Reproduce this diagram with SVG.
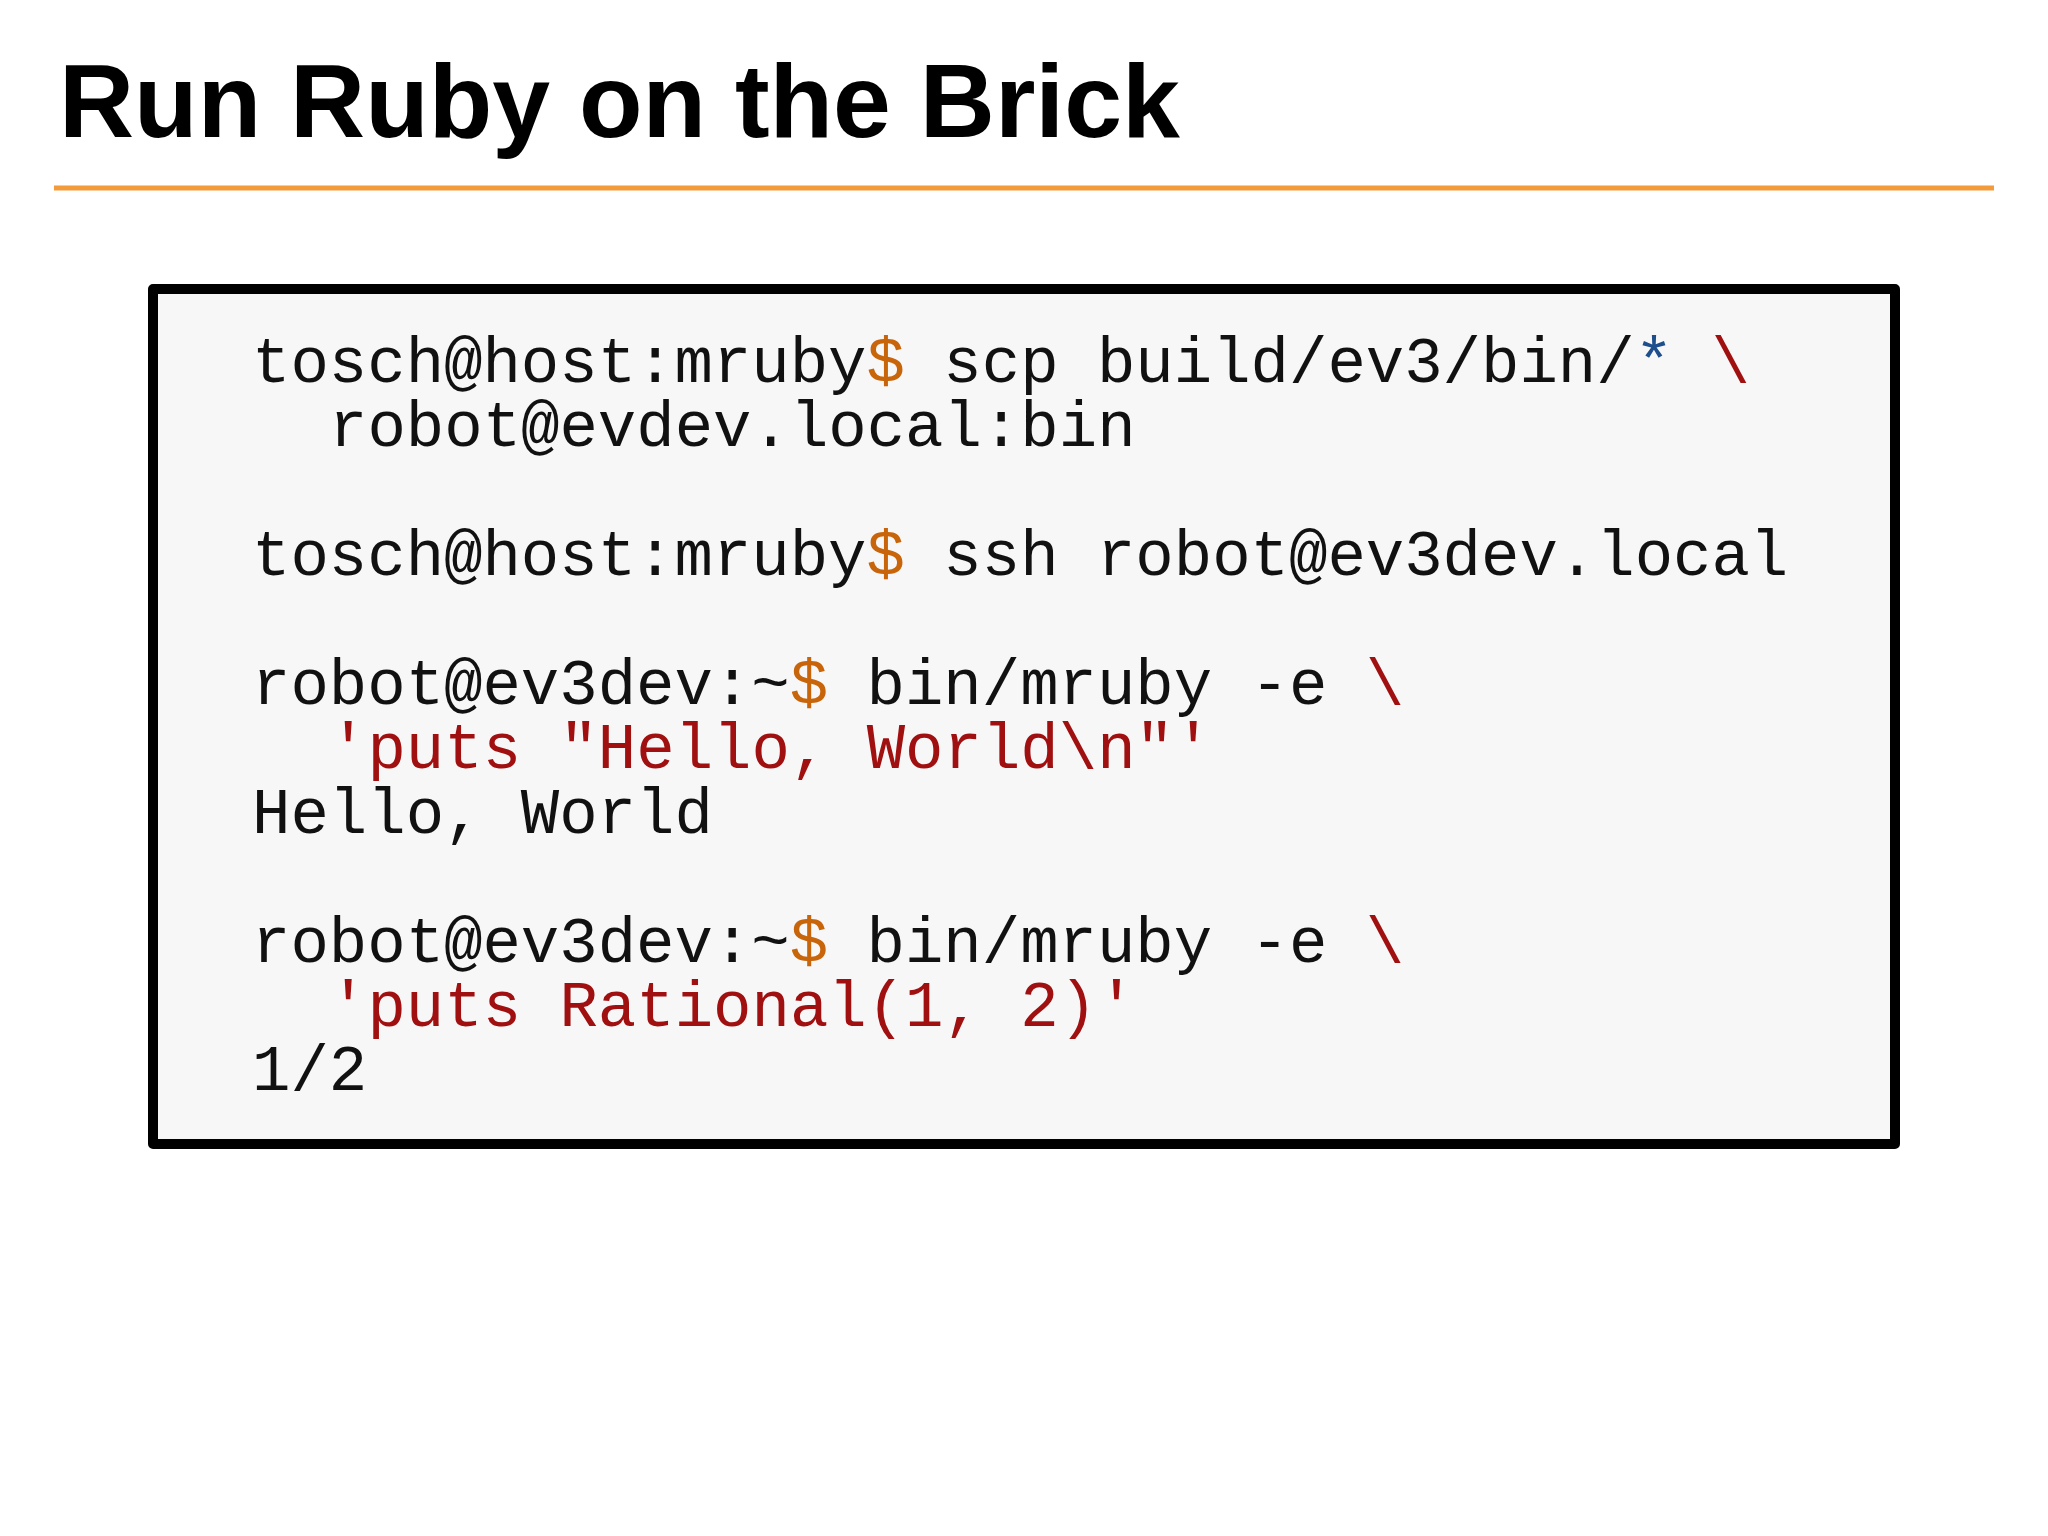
<svg xmlns="http://www.w3.org/2000/svg" width="2048" height="1536" viewBox="0 0 2048 1536">
<style>
.t{font-family:"Liberation Sans",Arial,sans-serif;font-weight:bold;font-size:104px;fill:#000}
.c{font-family:"Liberation Mono","Courier New",monospace;font-size:64px;fill:#111}
.o{fill:#c8640a}.b{fill:#1f4e8c}.r{fill:#a01010}
</style>
<rect width="2048" height="1536" fill="#fff"/>
<g id="title"><text class="t" x="59" y="137">Run Ruby on the Brick</text>
<line x1="54" y1="188" x2="1994" y2="188" stroke="#f39a3b" stroke-width="5"/></g>
<g id="terminal">
<rect x="153" y="289" width="1742" height="855" fill="#f7f7f8" stroke="#000" stroke-width="10" stroke-linejoin="round"/>
<text class="c" xml:space="preserve">
<tspan x="252" y="382">tosch@host:mruby<tspan class="o">$</tspan> scp build/ev3/bin/<tspan class="b">*</tspan> <tspan class="r">\</tspan></tspan>
<tspan x="329" y="446">robot@evdev.local:bin</tspan>
<tspan x="252" y="575">tosch@host:mruby<tspan class="o">$</tspan> ssh robot@ev3dev.local</tspan>
<tspan x="252" y="704">robot@ev3dev:~<tspan class="o">$</tspan> bin/mruby -e <tspan class="r">\</tspan></tspan>
<tspan x="329" y="768" class="r">'puts "Hello, World\n"'</tspan>
<tspan x="252" y="833">Hello, World</tspan>
<tspan x="252" y="962">robot@ev3dev:~<tspan class="o">$</tspan> bin/mruby -e <tspan class="r">\</tspan></tspan>
<tspan x="329" y="1026" class="r">'puts Rational(1, 2)'</tspan>
<tspan x="252" y="1090">1/2</tspan>
</text></g>
</svg>
